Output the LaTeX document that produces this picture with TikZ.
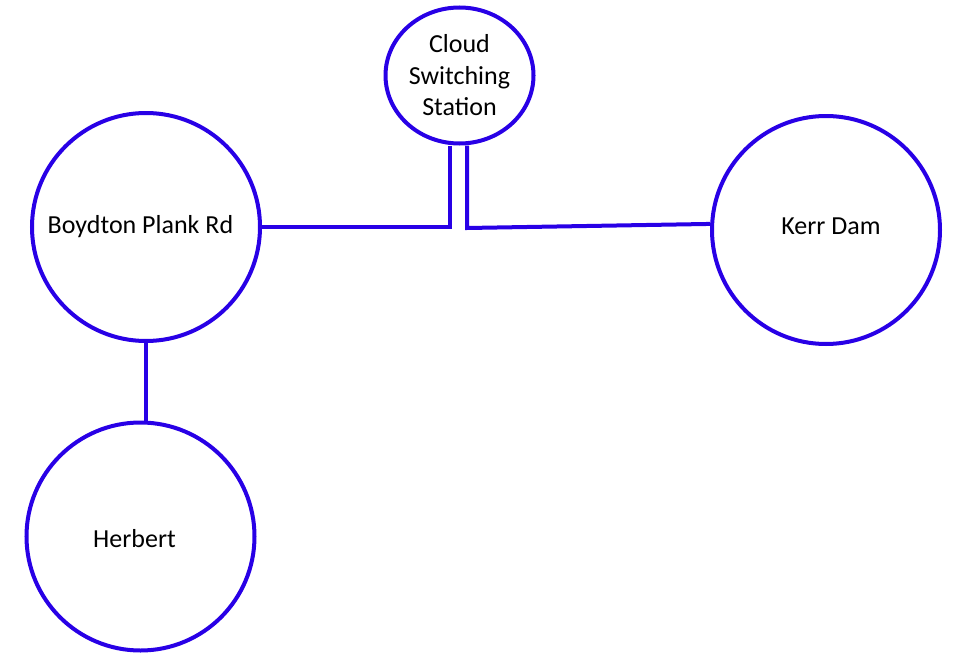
\documentclass[tikz,border=0pt]{standalone}
\usepackage{fontspec}
\setmainfont{Carlito}
\usetikzlibrary{shapes.geometric}
\definecolor{linkblue}{RGB}{40,0,230}
\tikzset{
  x=1pt, y=-1pt,
  wire/.style={draw=linkblue, line width=4pt},
  station/.style={circle, draw=linkblue, line width=4pt, fill=white, minimum size=228pt, inner sep=0pt},
  hub/.style={ellipse, draw=linkblue, line width=4pt, fill=white, minimum width=148pt, minimum height=136pt, inner sep=0pt, align=center},
  lbl/.style={font=\fontsize{26}{31.5}\selectfont, text=black, inner sep=0pt}
}
\begin{document}
\begin{tikzpicture}
\useasboundingbox (0,0) rectangle (953,653);
\node[hub, font=\fontsize{26}{31.5}\selectfont] (cloud) at (459.5,75.5) {Cloud\\Switching\\Station};
\node[station, label={[lbl, name=bl, xshift=-5.5pt]center:Boydton Plank Rd}] (b) at (146,227) {};
\node[station, label={[lbl, name=kl, xshift=5pt, yshift=4pt]center:Kerr Dam}] (k) at (826,230) {};
\node[station, minimum height=227pt, label={[lbl, name=hl, xshift=-6pt, yshift=-2pt]center:Herbert}] (h) at (140.5,536.5) {};
\coordinate (jl) at (450,227);
\coordinate (jr) at (467,228);
\draw[wire] (b.east) -- (jl) -- ([xshift=-9.5pt]cloud.south);
\draw[wire] ([xshift=7.5pt]cloud.south) -- (jr) -- (k.177);
\draw[wire] (b.south) -- (b.south |- h.north);
\end{tikzpicture}
\end{document}
